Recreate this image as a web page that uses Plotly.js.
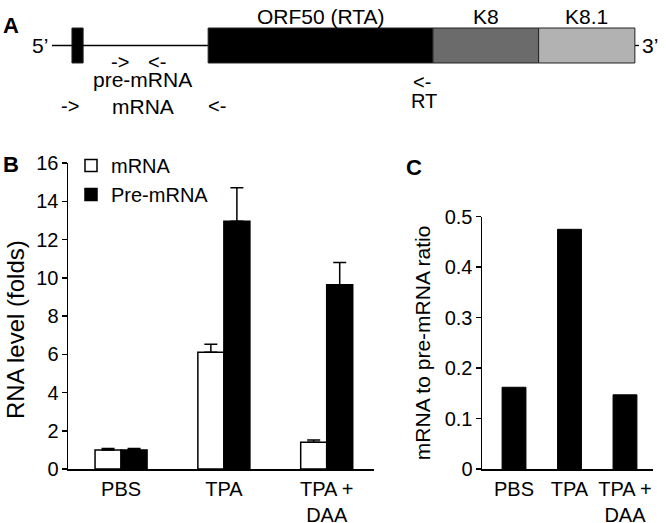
<!DOCTYPE html>
<html>
<head>
<meta charset="utf-8">
<script src="https://cdn.plot.ly/plotly-3.0.1.min.js"></script>
<style>
  html, body { margin: 0; padding: 0; background: #fff; }
  #fig { width: 666px; height: 523px; }
</style>
</head>
<body>
<div id="fig"></div>
<script>
// ── Panel A: gene map (positions in map units along the line, 0–100) ──
const segNames  = ["exon 1", "ORF50 (RTA)", "K8", "K8.1"];
const segStart  = [3.4, 26.6, 64.9, 82.9];
const segEnd    = [5.3, 64.9, 82.9, 99.3];
const segColors = ["#000000", "#000000", "#6b6b6b", "#b2b2b2"];
const segLabelled = [false, true, true, true];
const mapLength = 100;

// primer marks: text, map position, row
const primerText = ["->", "<-", "pre-mRNA", "->", "mRNA", "<-", "<-", "RT"];
const primerPos  = [11.6, 17.9, 15.5, 3.1, 15.5, 28.1, 63.0, 63.3];
const primerRow  = [-0.47, -0.47, -0.96, -1.73, -1.73, -1.73, -1.04, -1.59];

// ── Panel B: RNA level (folds) ──
const groups     = ["PBS", "TPA", "TPA +<br>DAA"];
const mrna       = [1.0, 6.1, 1.4];
const mrnaErr    = [0.07, 0.42, 0.12];
const preMrna    = [1.0, 12.95, 9.63];
const preMrnaErr = [0.07, 1.75, 1.17];
const levelTicks = [0, 2, 4, 6, 8, 10, 12, 14, 16];

// ── Panel C: mRNA / pre-mRNA ratio ──
const ratio      = [0.162, 0.475, 0.147];
const ratioTicks = [0, 0.1, 0.2, 0.3, 0.4, 0.5];

const FONT = "Liberation Sans, Arial, Helvetica, sans-serif";

const traces = [
  // gene line, broken where the boxes sit
  {
    type: "scatter", mode: "lines", xaxis: "x3", yaxis: "y3",
    x: [0, segStart[1], null, segEnd[segEnd.length - 1], mapLength],
    y: [0, 0, null, 0, 0],
    line: { color: "#000", width: 1.3 },
    showlegend: false, hoverinfo: "skip",
  },
  {
    type: "bar", orientation: "h", xaxis: "x3", yaxis: "y3",
    y: segNames.map(() => 0),
    base: segStart,
    x: segStart.map((s, i) => segEnd[i] - s),
    width: 1,
    marker: { color: segColors, line: { color: "#222", width: 1 } },
    showlegend: false, hoverinfo: "skip",
  },
  // panel B
  {
    type: "bar", name: "mRNA", xaxis: "x", yaxis: "y",
    x: groups, y: mrna,
    marker: { color: "#fff", line: { color: "#000", width: 1.5 } },
    error_y: { type: "data", array: mrnaErr, arrayminus: mrnaErr.map(() => 0),
               symmetric: false, color: "#000", thickness: 1.5, width: 6.5 },
  },
  {
    type: "bar", name: "Pre-mRNA", xaxis: "x", yaxis: "y",
    x: groups, y: preMrna,
    marker: { color: "#000", line: { color: "#000", width: 1.5 } },
    error_y: { type: "data", array: preMrnaErr, arrayminus: preMrnaErr.map(() => 0),
               symmetric: false, color: "#000", thickness: 1.5, width: 6.5 },
  },
  // panel C
  {
    type: "bar", xaxis: "x2", yaxis: "y2",
    x: groups, y: ratio, width: 0.43,
    marker: { color: "#000", line: { color: "#000", width: 1 } },
    showlegend: false,
  },
];

const annotations = [];
segNames.forEach((name, i) => {
  if (!segLabelled[i]) return;
  annotations.push({
    xref: "x3", yref: "y3", x: (segStart[i] + segEnd[i]) / 2, y: 0.84,
    text: name, showarrow: false, font: { size: 21 },
  });
});
primerText.forEach((t, i) => {
  annotations.push({
    xref: "x3", yref: "y3", x: primerPos[i], y: primerRow[i],
    text: t, showarrow: false, font: { size: t.length === 2 ? 20 : 21 },
  });
});
annotations.push(
  { xref: "x3", yref: "y3", x: 0, y: 0, xanchor: "right", xshift: -2,
    text: "5’", showarrow: false, font: { size: 21 } },
  { xref: "x3", yref: "y3", x: mapLength, y: 0, xanchor: "left", xshift: 1,
    text: "3’", showarrow: false, font: { size: 21 } },
  { xref: "paper", yref: "paper", x: 1 / 666, y: 1 - 11 / 523, xanchor: "left",
    text: "<b>A</b>", showarrow: false, font: { size: 22 } },
  { xref: "paper", yref: "paper", x: 1 / 666, y: 1 - 150 / 523, xanchor: "left",
    text: "<b>B</b>", showarrow: false, font: { size: 22 } },
  { xref: "paper", yref: "paper", x: 404 / 666, y: 1 - 153 / 523, xanchor: "left",
    text: "<b>C</b>", showarrow: false, font: { size: 22 } },
  { xref: "paper", yref: "paper", x: 15 / 666, y: 1 - 330 / 523,
    xanchor: "center", yanchor: "middle", textangle: -90,
    text: "RNA level (folds)", showarrow: false, font: { size: 24 } },
);

const axisCommon = {
  showline: true, linecolor: "#000", linewidth: 1.5,
  showgrid: false, zeroline: false, fixedrange: true,
};

const layout = {
  width: 666, height: 523,
  margin: { l: 0, r: 0, t: 0, b: 0 },
  paper_bgcolor: "#fff", plot_bgcolor: "rgba(0,0,0,0)",
  font: { family: FONT, color: "#000", size: 20 },
  barmode: "group", bargap: 0.494, bargroupgap: 0,
  showlegend: true,
  legend: {
    x: 71 / 666, y: 1 - 146 / 523, xanchor: "left", yanchor: "top",
    bgcolor: "rgba(0,0,0,0)", font: { size: 20 },
    itemwidth: 30, tracegroupgap: 0,
  },
  // panel B axes
  xaxis: Object.assign({}, axisCommon, {
    domain: [68 / 666, 374 / 666], anchor: "y",
    type: "category", range: [-0.516, 2.46],
    ticks: "", ticklabelstandoff: 1,
  }),
  yaxis: Object.assign({}, axisCommon, {
    domain: [54 / 523, 360 / 523], anchor: "x",
    range: [0, 16], tickvals: levelTicks,
    ticks: "outside", ticklen: 5, tickwidth: 1.5, tickcolor: "#000",
    ticklabelstandoff: -1,
  }),
  // panel C axes
  xaxis2: Object.assign({}, axisCommon, {
    domain: [482 / 666, 653 / 666], anchor: "y2",
    type: "category", range: [-0.577, 2.505],
    ticks: "", ticklabelstandoff: 1,
  }),
  yaxis2: Object.assign({}, axisCommon, {
    domain: [54 / 523, 306.3 / 523], anchor: "x2",
    range: [0, 0.5], tickvals: ratioTicks,
    ticktext: ratioTicks.map(v => v === 0 ? "0" : v.toFixed(1)),
    ticks: "outside", ticklen: 5, tickwidth: 1.5, tickcolor: "#000",
    ticklabelstandoff: -1,
    title: { text: "mRNA to pre-mRNA ratio", font: { size: 21 }, standoff: 8 },
  }),
  // panel A (hidden map axes)
  xaxis3: {
    domain: [52 / 666, 639 / 666], anchor: "y3",
    range: [0, mapLength], visible: false, fixedrange: true,
  },
  yaxis3: {
    domain: [403 / 523, 1], anchor: "x3",
    range: [-2.129, 1.3], visible: false, fixedrange: true,
  },
  annotations: annotations,
};

Plotly.newPlot("fig", traces, layout, { staticPlot: true, displayModeBar: false });
</script>
</body>
</html>
